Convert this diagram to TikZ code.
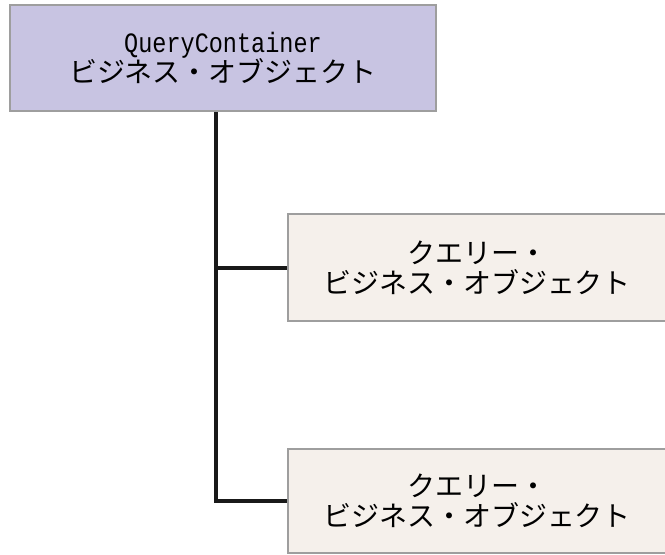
\documentclass[tikz,border=0pt]{standalone}
\usepackage{fontspec}
\setmainfont{Noto Sans CJK JP}
\newfontfamily\latmono[FakeStretch=0.84]{Liberation Mono}
\lineskiplimit=-100pt
\lineskip=0pt
\begin{document}
\begin{tikzpicture}[x=1pt,y=-1pt,
  box/.style={draw=black!38, line width=2pt, align=center, inner sep=0pt,
    font=\fontsize{28}{30}\selectfont},
  topbox/.style={box, fill=topfill, minimum width=426pt, minimum height=106pt},
  qbox/.style={box, fill=qfill, minimum width=378pt},
  conn/.style={draw=black!90, line width=4pt}]
\definecolor{topfill}{RGB}{200,196,226}
\definecolor{qfill}{RGB}{245,240,235}
\useasboundingbox (0,0) rectangle (665,555);
\begin{scope}
\clip (0,0) rectangle (665,555);
\node[topbox] (top) at (223,58) {{\latmono\fontsize{28}{30}\selectfont QueryContainer}\\ビジネス・オブジェクト};
\node[qbox, minimum height=107pt] (q1) at (477,267.5) {クエリー・\\ビジネス・オブジェクト};
\node[qbox, minimum height=104pt] (q2) at (477,501) {クエリー・\\ビジネス・オブジェクト};
\draw[conn] ([xshift=-7pt]top.south) |- (q2.west);
\draw[conn] ([xshift=-7pt]top.south |- q1.west) -- (q1.west);
\end{scope}
\end{tikzpicture}
\end{document}
